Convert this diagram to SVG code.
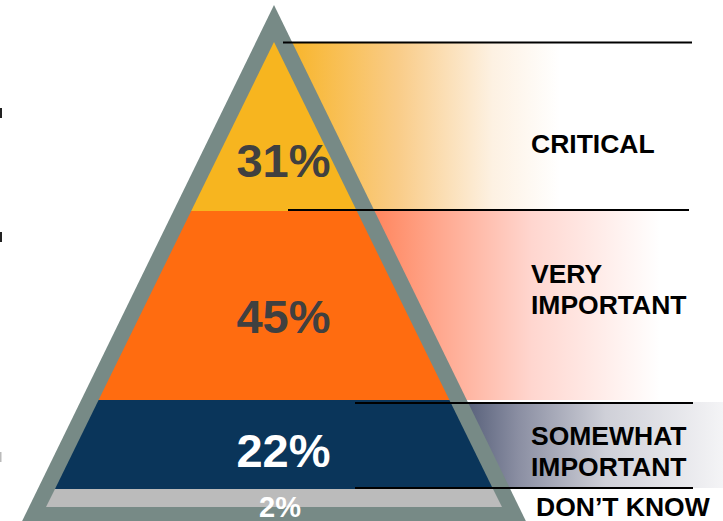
<svg xmlns="http://www.w3.org/2000/svg" width="723" height="521" viewBox="0 0 723 521">
<style>
.pct{font-family:"Liberation Sans",Arial,sans-serif;font-weight:bold;font-size:47px;text-anchor:middle}
.lbl{font-family:"Liberation Sans",Arial,sans-serif;font-weight:bold;font-size:26.5px;fill:#000}
.rule{stroke:#000;stroke-width:2;fill:none}
</style>
<defs>
<linearGradient id="gY" gradientUnits="userSpaceOnUse" x1="290" y1="0" x2="560" y2="0">
<stop offset="0" stop-color="#f8b52a"/>
<stop offset="0.4" stop-color="#f9cc88"/>
<stop offset="0.75" stop-color="#fdf1e2"/>
<stop offset="1" stop-color="#ffffff"/>
</linearGradient>
<linearGradient id="gO" gradientUnits="userSpaceOnUse" x1="340" y1="0" x2="660" y2="0">
<stop offset="0" stop-color="#ff7444"/>
<stop offset="0.3" stop-color="#ffa68c"/>
<stop offset="0.6" stop-color="#ffd6cf"/>
<stop offset="1" stop-color="#ffffff"/>
</linearGradient>
<linearGradient id="gN" gradientUnits="userSpaceOnUse" x1="430" y1="0" x2="723" y2="0">
<stop offset="0" stop-color="#34405e"/>
<stop offset="0.3" stop-color="#8a8ea2"/>
<stop offset="0.6" stop-color="#cfd0d8"/>
<stop offset="1" stop-color="#f4f4f6"/>
</linearGradient>
</defs>

<g id="left-marks">
<rect x="0" y="108" width="2" height="10" fill="#222"/>
<rect x="0" y="232" width="2" height="10" fill="#222"/>
<rect x="0" y="452" width="1.5" height="10" fill="#bbb"/>
</g>

<g id="bands">
<rect x="283" y="43" width="440" height="168" fill="url(#gY)"/>
<rect x="288" y="211" width="435" height="189" fill="url(#gO)"/>
<rect x="355" y="402" width="368" height="86" fill="url(#gN)"/>
</g>

<g id="pyramid">
<polygon points="274,5 8,550 540,550" fill="#778a86"/>
<polygon id="layer-critical" points="274,42 191.2,211 356.8,211" fill="#f7b51f"/>
<polygon id="layer-very" points="191.2,211 356.8,211 449.4,400 98.6,400" fill="#ff6c10"/>
<polygon id="layer-somewhat" points="98.6,400 449.4,400 493,489 55,489" fill="#0a355a"/>
<polygon id="layer-dontknow" points="55,489 493,489 502,507 46,507" fill="#bbbbbb"/>
</g>

<g id="connectors">
<line class="rule" x1="283" y1="42.5" x2="692" y2="42.5"/>
<line class="rule" x1="288" y1="210" x2="689" y2="210"/>
<line class="rule" x1="355" y1="403" x2="693" y2="403"/>
<line class="rule" x1="355" y1="488" x2="693" y2="488"/>
</g>

<g id="pct-labels">
<text class="pct" x="283.5" y="177" fill="#404040">31%</text>
<text class="pct" x="283.5" y="333" fill="#404040">45%</text>
<text class="pct" x="283.5" y="467" fill="#ffffff">22%</text>
<text class="pct" x="280" y="517" fill="#ffffff" style="font-size:29px">2%</text>
</g>

<g id="category-labels">
<text class="lbl" x="531" y="152.5">CRITICAL</text>
<text class="lbl" x="531" y="283">VERY</text>
<text class="lbl" x="531" y="314">IMPORTANT</text>
<text class="lbl" x="531" y="445">SOMEWHAT</text>
<text class="lbl" x="531" y="476">IMPORTANT</text>
<text class="lbl" x="536" y="515.5">DON’T KNOW</text>
</g>
</svg>
